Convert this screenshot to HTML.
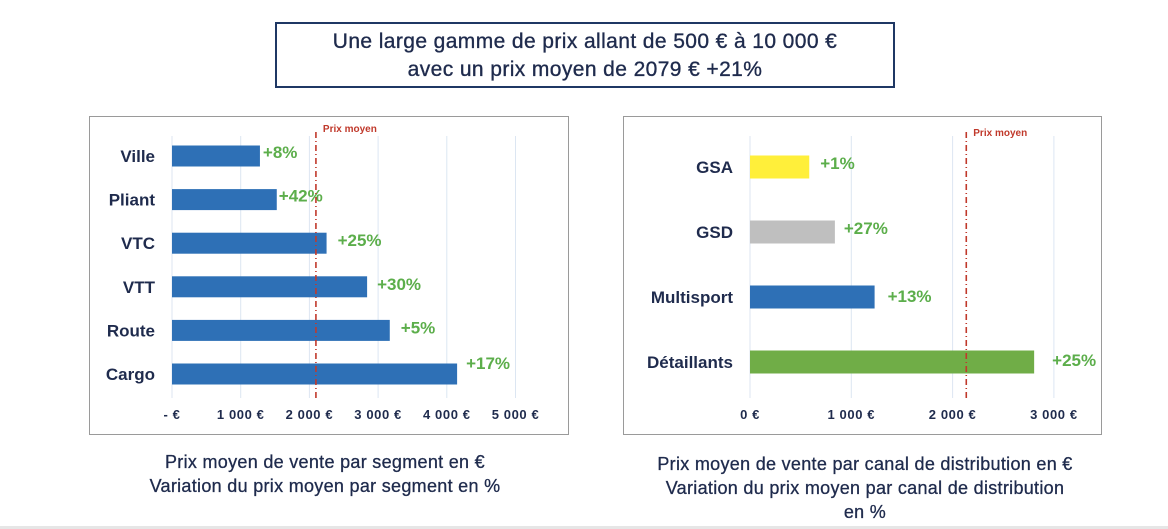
<!DOCTYPE html>
<html><head><meta charset="utf-8"><style>
body{margin:0;width:1168px;height:529px;background:#fff;font-family:"Liberation Sans",sans-serif;position:relative;overflow:hidden}
.title{position:absolute;left:275px;top:22px;width:616px;border:2px solid #1f3864;color:#1f2b4d;font-size:21px;text-align:center;line-height:28px;padding-top:4px;height:58px;letter-spacing:0.4px;-webkit-text-stroke:0.35px #1f2b4d}
.cap{position:absolute;color:#1f2b4d;font-size:18px;text-align:center;line-height:24px;letter-spacing:0.3px;-webkit-text-stroke:0.3px #1f2b4d}
.frame{position:absolute;border:1px solid #9a9a9a}
svg{position:absolute;left:0;top:0}
</style></head><body>
<div class="title">Une large gamme de prix allant de 500 € à 10 000 €<br>avec un prix moyen de 2079 € +21%</div>
<div class="frame" style="left:89px;top:116px;width:478px;height:317px"></div>
<div class="frame" style="left:623px;top:116px;width:477px;height:317px"></div>
<div class="cap" style="left:80px;top:450px;width:490px">Prix moyen de vente par segment en €<br>Variation du prix moyen par segment en %</div>
<div class="cap" style="left:590px;top:452px;width:550px">Prix moyen de vente par canal de distribution en €<br>Variation du prix moyen par canal de distribution<br>en %</div>
<div style="position:absolute;left:0;top:526px;width:1168px;height:3px;background:#e6e6e6"></div>
<svg id="c" width="1168" height="529"></svg>
<script>
const segCats=["Ville","Pliant","VTC","VTT","Route","Cargo"];
const segVals=[1280,1525,2250,2840,3170,4150];
const segPct=["+8%","+42%","+25%","+30%","+5%","+17%"];
const segTicks=[0,1000,2000,3000,4000,5000];
const segTickLabels=["-   €","1 000 €","2 000 €","3 000 €","4 000 €","5 000 €"];
const segAvg=2095;
const chCats=["GSA","GSD","Multisport","Détaillants"];
const chVals=[585,838,1230,2805];
const chPct=["+1%","+27%","+13%","+25%"];
const chColors=["#ffef3a","#bfbfbf","#2e70b6","#70ad47"];
const chTicks=[0,1000,2000,3000];
const chTickLabels=["0 €","1 000 €","2 000 €","3 000 €"];
const chAvg=2135;
const NS="http://www.w3.org/2000/svg";
const svg=document.getElementById('c');
function mk(t,a,txt){const e=document.createElementNS(NS,t);for(const k in a)e.setAttribute(k,a[k]);if(txt!==undefined)e.textContent=txt;svg.appendChild(e);return e;}
function draw(o){
 const x=v=>o.x0+v*o.k;
 const y=i=>o.y0+i*o.step;
 o.ticks.forEach((t,i)=>{
  const g=mk('line',{x1:x(t),x2:x(t),y1:o.gTop,y2:o.gBot,stroke:'#dce6f2','stroke-width':1});
  
  
  const l=mk('text',{x:x(t),y:o.tickY,'text-anchor':'middle','font-size':13,fill:'#1f2b4d','font-weight':'bold','letter-spacing':'0.6'},o.tickLabels[i]);
  
  
 });
 o.cats.forEach((c,i)=>{
  const b=mk('rect',{x:x(0),y:y(i)-o.bh/2,width:x(o.vals[i])-x(0),height:o.bh,fill:o.colors?o.colors[i]:'#2e70b6'});
  
  
  const l=mk('text',{x:o.labelX,y:y(i)+6,'text-anchor':'end','font-size':17,'font-weight':'bold',fill:'#1f2b4d'},c);
  
  
  const p=mk('text',{x:x(o.vals[i])+o.pdx[i],y:y(i)+o.pdy[i],'font-size':17,'font-weight':'bold',fill:'#5cae4b'},o.pct[i]);
  
  
 });
 const a=mk('line',{x1:x(o.avg),x2:x(o.avg),y1:o.gTop-4,y2:o.gBot,stroke:'#c0392b','stroke-width':1.6,'stroke-dasharray':'6 3 1 3'});
 
 
 const at=mk('text',{x:x(o.avg)+7,y:o.avgLabelY,'font-size':10,'font-weight':'bold',fill:'#c0392b'},'Prix moyen');
 
 
}
draw({id:'segment',x0:172,k:0.0687,y0:156,step:43.6,bh:21,cats:segCats,vals:segVals,pct:segPct,ticks:segTicks,tickLabels:segTickLabels,avg:segAvg,gTop:136,gBot:398,tickY:419,labelX:155,avgLabelY:132,
 pdx:[3,2,11,10,11,9],pdy:[2,2,3,3,3,-5]});
draw({id:'channel',x0:750,k:0.1013,y0:167,step:65,bh:23,cats:chCats,vals:chVals,pct:chPct,colors:chColors,ticks:chTicks,tickLabels:chTickLabels,avg:chAvg,gTop:136,gBot:398,tickY:419,labelX:733,avgLabelY:136,
 pdx:[11,9,13,18],pdy:[2,2,5,4]});
</script>
</body></html>
